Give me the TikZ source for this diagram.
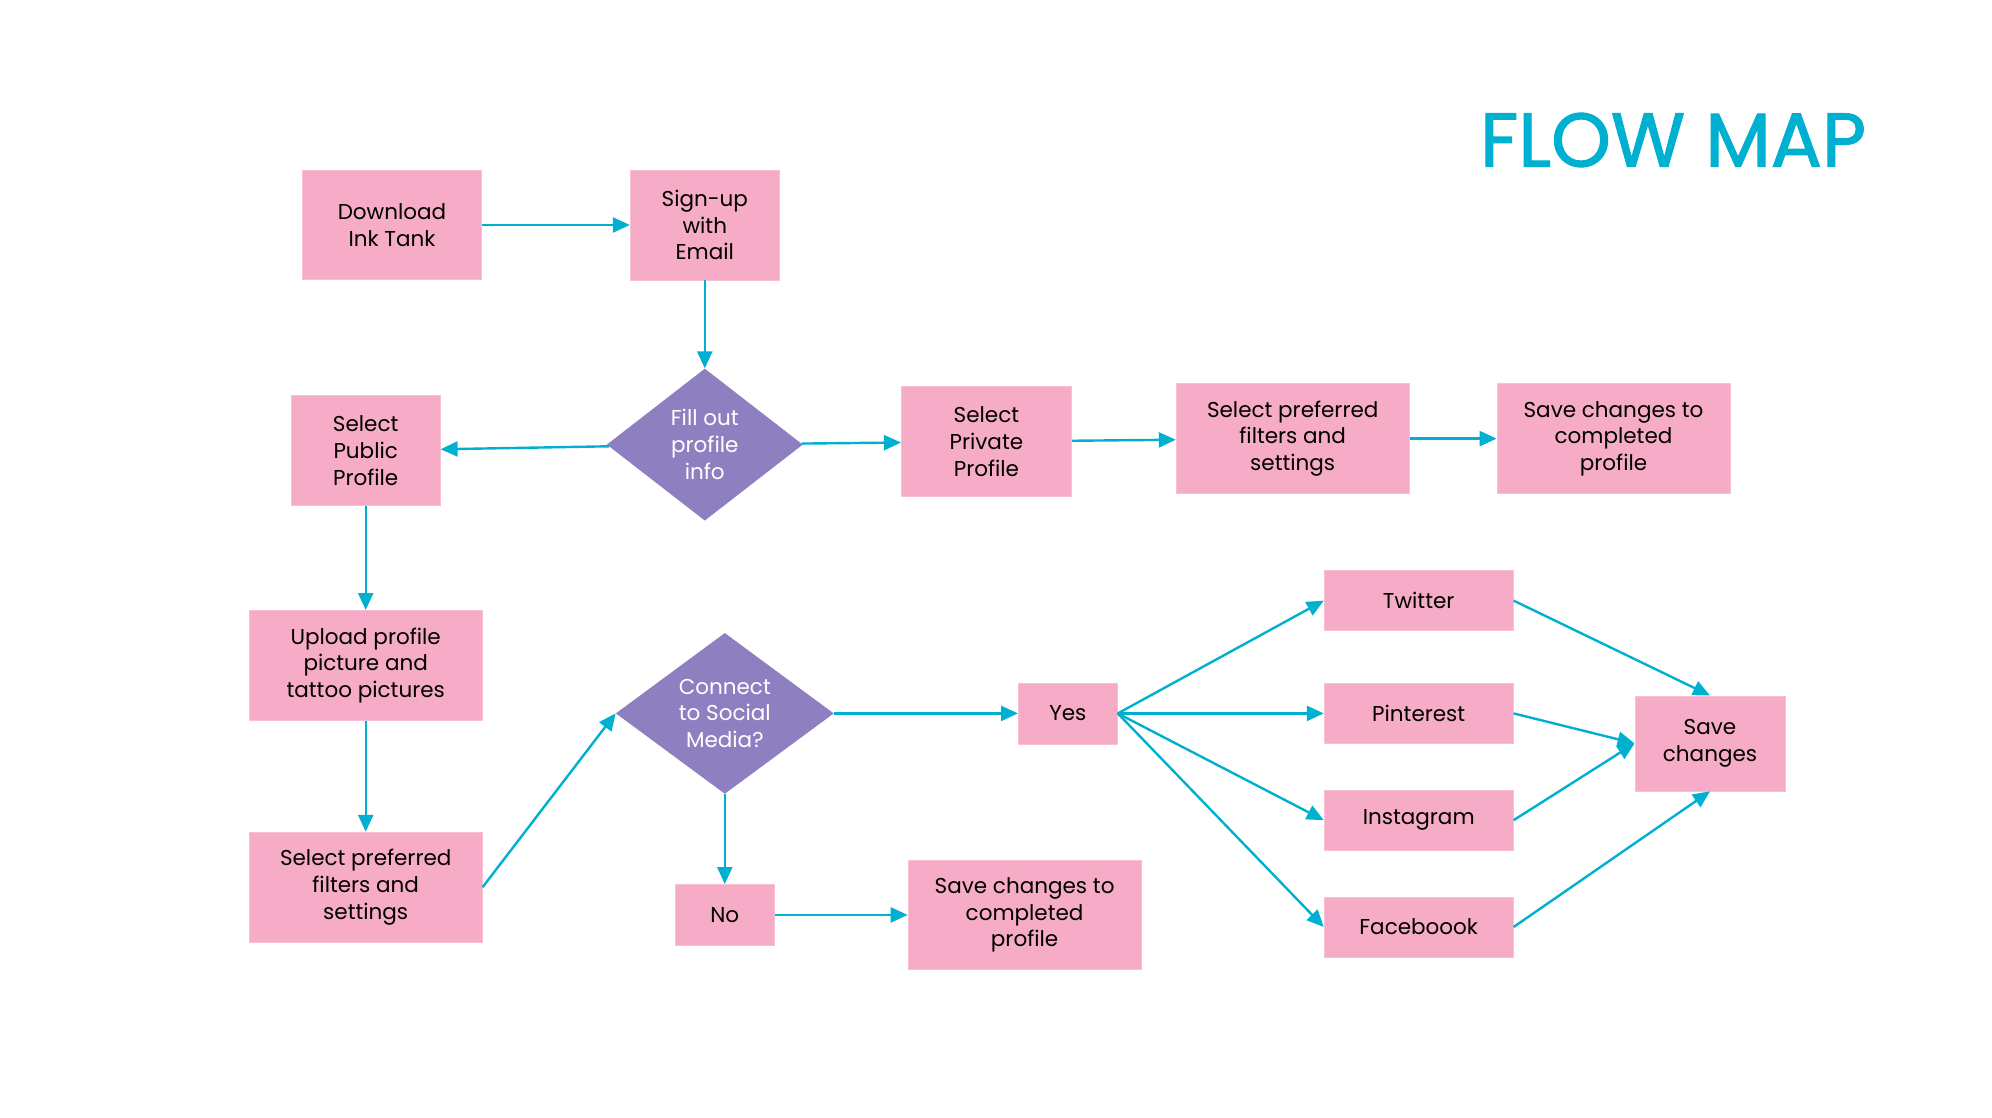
\documentclass[tikz,border=0pt]{standalone}
\usepackage{fontspec}
\setmainfont{Poppins}
\newfontfamily\titlefont[FakeBold=1.6]{Poppins}
\usepackage{tikz}
\usetikzlibrary{shapes.geometric, arrows.meta}
\usetikzlibrary{positioning}
\definecolor{boxpink}{RGB}{246,171,198}
\definecolor{boxline}{RGB}{249,192,212}
\definecolor{diapurple}{RGB}{142,127,193}
\definecolor{flowteal}{RGB}{0,176,208}
\tikzset{
    process/.style = {
        rectangle,
        minimum width=233pt,
        minimum height=110pt,
        inner sep=0pt,
        align=center,
        fill=boxpink,
        draw=boxline,
        line width=0.8pt,
    },
    small/.style = {
        process,
        minimum width=99pt,
        minimum height=61pt,
    },
    social/.style = {
        process,
        minimum width=189pt,
        minimum height=60pt,
    },
    decision/.style = {
        diamond,
        inner sep=0pt,
        align=center,
        fill=diapurple,
        text=white,
    },
}
\tikzstyle{arrow} = [line width=2.4pt, draw=flowteal, -{Triangle[length=17pt, width=15pt]}]

\begin{document}
\begin{tikzpicture}[x=1pt, y=-1pt, font=\fontsize{21.5pt}{26.7pt}\selectfont]
        \useasboundingbox (0,0) rectangle (1992,1118);

        \node(title) [text=flowteal, font=\fontsize{76pt}{78pt}\titlefont] at (1673,140)
        {FLOW MAP};

        \node(download) [process, minimum width=179pt, minimum height=109pt] at (392,225)
        {Download\\Ink Tank};
        \node(signup) [process, minimum width=149pt, right = 148pt of download]
        {Sign-up\\with\\Email};
        \node(fill) [decision, minimum width=196pt, minimum height=152pt, below = 88pt of signup]
        {Fill out\\profile\\info};
        \node(public) [process, minimum width=149pt, left = 166pt of fill, yshift=-6pt]
        {Select\\Public\\Profile};
        \node(private) [process, minimum width=170pt, right = 98pt of fill, yshift=3pt]
        {Select\\Private\\Profile};
        \node(filtTop) [process, right = 104pt of private, yshift=3pt]
        {Select preferred\\filters and\\settings};
        \node(saveTop) [process, right = 87pt of filtTop]
        {Save changes to\\completed\\profile};

        \node(upload) [process, below = 104pt of public]
        {Upload profile\\picture and\\tattoo pictures};
        \node(filtBot) [process, below = 111pt of upload]
        {Select preferred\\filters and\\settings};
        \node(connect) [decision, minimum width=218pt, minimum height=158pt, right = 133pt of upload, yshift=-48pt]
        {Connect\\to Social\\Media?};
        \node(yes) [small, right = 184pt of connect]
        {Yes};
        \node(no) [small, below = 90pt of connect]
        {No};
        \node(saveBot) [process, minimum height=109pt, right = 133pt of no]
        {Save changes to\\completed\\profile};

        \node(pinterest) [social, right = 206pt of yes]
        {Pinterest};
        \node(twitter) [social, above = 52pt of pinterest]
        {Twitter};
        \node(instagram) [social, below = 46pt of pinterest]
        {Instagram};
        \node(facebook) [social, below = 46pt of instagram]
        {Faceboook};
        \node(saveAll) [process, minimum width=150pt, minimum height=95pt, right = 121pt of pinterest, yshift=-30pt]
        {Save\\changes};

        \draw [arrow] (download) -- (signup);
        \draw [arrow] (signup) -- (fill);
        \draw [arrow] (fill) -- (public);
        \draw [arrow] (fill) -- (private);
        \draw [arrow] (private) -- (filtTop);
        \draw [arrow] (filtTop) -- (saveTop);
        \draw [arrow] (public) -- (upload);
        \draw [arrow] (upload) -- (filtBot);
        \draw [arrow] (filtBot.east) -- (connect.west);
        \draw [arrow] (connect) -- (yes);
        \draw [arrow] (connect) -- (no);
        \draw [arrow] (no) -- (saveBot);

        \draw [arrow] (yes.east) -- (twitter.west);
        \draw [arrow] (yes.east) -- (pinterest.west);
        \draw [arrow] (yes.east) -- (instagram.west);
        \draw [arrow] (yes.east) -- (facebook.west);

        \draw [arrow] (twitter.east) -- (saveAll.north);
        \draw [arrow] (pinterest.east) -- (saveAll.west);
        \draw [arrow] (instagram.east) -- (saveAll.west);
        \draw [arrow] (facebook.east) -- (saveAll.south);

    \end{tikzpicture}
\end{document}
